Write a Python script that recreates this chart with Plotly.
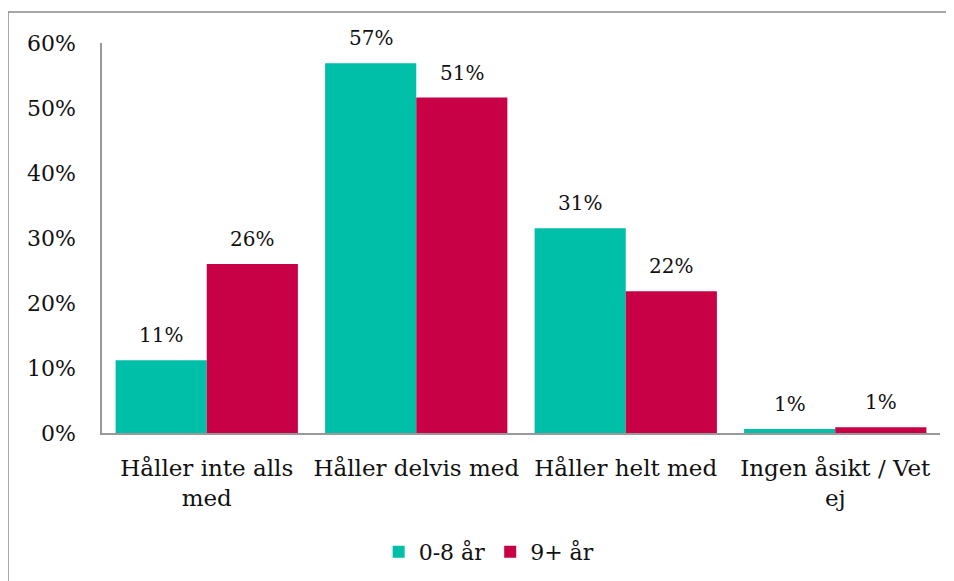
import plotly.graph_objects as go

categories = ["Håller inte alls<br>med", "Håller delvis med", "Håller helt med", "Ingen åsikt / Vet<br>ej"]
series_names = ["0-8 år", "9+ år"]
values_a = [11.2, 56.9, 31.5, 0.6]
values_b = [26.0, 51.6, 21.8, 0.9]
labels_a = ["11%", "57%", "31%", "1%"]
labels_b = ["26%", "51%", "22%", "1%"]
tick_vals = [0, 10, 20, 30, 40, 50, 60]
tick_text = ["0%", "10%", "20%", "30%", "40%", "50%", "60%"]

colors = ["#00BFA8", "#C80045"]
FONT = "DejaVu Serif"
W, H = 946, 573
ML, MR, MT, MB = 94, 14, 35, 148
plot_w = W - ML - MR
bargap = 0.13
bar_px = plot_w / len(categories) * (1 - bargap) / 2

fig = go.Figure()
annotations = []
for k, (name, vals, labs, col) in enumerate([(series_names[0], values_a, labels_a, colors[0]),
                                             (series_names[1], values_b, labels_b, colors[1])]):
    fig.add_trace(go.Bar(
        x=categories, y=vals, name=name, marker=dict(color=col, line=dict(width=0)),
    ))
    shift = (-0.5 if k == 0 else 0.5) * bar_px
    for c, v, t in zip(categories, vals, labs):
        annotations.append(dict(x=c, y=v, xref="x", yref="y", text=t, showarrow=False,
                                xshift=shift, yshift=25, yanchor="middle",
                                font=dict(family=FONT, size=20, color="#111")))

fig.update_layout(
    width=W, height=H,
    margin=dict(l=ML, r=MR, t=MT, b=MB, autoexpand=False),
    paper_bgcolor="white", plot_bgcolor="white",
    barmode="group", bargap=bargap, bargroupgap=0,
    font=dict(family=FONT, size=22, color="#111"),
    showlegend=True,
    legend=dict(orientation="h", x=0.462, xanchor="center", y=-0.305, yanchor="middle",
                font=dict(family=FONT, size=22), itemwidth=30, traceorder="normal"),
    xaxis=dict(showline=True, linecolor="#999", linewidth=2, ticks="", showgrid=False,
               tickfont=dict(family=FONT, size=23), ticklabelstandoff=13),
    yaxis=dict(range=[0, 60], tickvals=tick_vals, ticktext=tick_text, showgrid=False,
               showline=True, linecolor="#999", linewidth=1.5, ticks="",
               ticklabelstandoff=20, tickfont=dict(family=FONT, size=22), zeroline=False),
    annotations=annotations,
    shapes=[
        dict(type="line", xref="paper", yref="paper", x0=-0.1122, x1=-0.1122, y0=-0.5, y1=1.0795,
             line=dict(color="#888", width=1.5)),
        dict(type="line", xref="paper", yref="paper", x0=-0.1122, x1=1.1, y0=1.0795, y1=1.0795,
             line=dict(color="#888", width=1.5)),
    ],
)

fig.write_html("out.html")
